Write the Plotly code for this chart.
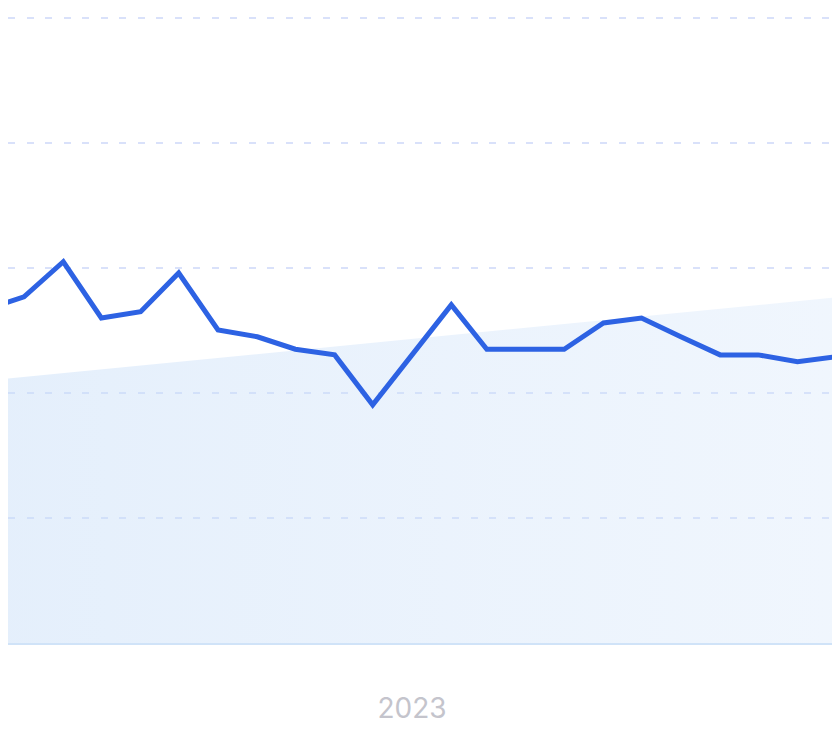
"""
Monthly series with a rising trend band, zoomed around 2023.
"""

import pandas as pd
import plotly.graph_objects as go

# ---------------------------------------------------------------------------
# Data
# ---------------------------------------------------------------------------
MONTHS = pd.date_range("2022-01-01", "2024-01-01", freq="MS")

VALUES = [
    50.0, 53.5, 55.4, 61.0, 52.0, 53.0, 59.2, 50.1, 49.0, 47.0, 46.1, 38.1,
    46.1, 54.1, 47.0, 47.0, 47.0, 51.2, 52.0, 49.0, 46.1, 46.1, 45.0, 45.8,
    85.0,
]

TREND_DATES = ["2022-01-01", "2024-01-01"]
TREND_VALUES = [41.4, 55.9]

LINE_COLOR = "#2D62E3"
GRID_COLOR = "#D9E1FA"
AXIS_COLOR = "#D0E3F8"
LABEL_COLOR = "#C4C4CC"

# ---------------------------------------------------------------------------
# Figure
# ---------------------------------------------------------------------------
fig = go.Figure()

fig.add_trace(go.Scatter(
    x=pd.to_datetime(TREND_DATES),
    y=TREND_VALUES,
    mode="lines",
    line=dict(width=0),
    fill="tozeroy",
    fillgradient=dict(
        type="horizontal",
        colorscale=[[0, "rgba(200,222,248,0.50)"], [1, "rgba(210,228,250,0.32)"]],
    ),
    hoverinfo="skip",
    showlegend=False,
))

fig.add_trace(go.Scatter(
    x=MONTHS,
    y=VALUES,
    mode="lines",
    line=dict(color=LINE_COLOR, width=5),
    showlegend=False,
))

# page has an 8px body margin; 1.268 px per day, Jan 1 2023 at page x=412
anchor = pd.Timestamp("2023-01-01")
x0 = anchor - pd.Timedelta(days=(412 - 8) / 1.268)
x1 = anchor + pd.Timedelta(days=(832 - 412) / 1.268)

fig.update_layout(
    width=824,
    height=724,
    margin=dict(l=0, r=0, t=0, b=89),
    paper_bgcolor="white",
    plot_bgcolor="white",
    font=dict(family="Inter, Noto Sans, sans-serif", color=LABEL_COLOR),
    xaxis=dict(
        type="date",
        range=[x0, x1],
        tickvals=[anchor],
        ticktext=["2023"],
        tickfont=dict(size=28, color=LABEL_COLOR),
        ticklabelstandoff=39,
        showgrid=False,
        showline=True,
        linecolor=AXIS_COLOR,
        linewidth=2,
        ticks="",
        zeroline=False,
    ),
    yaxis=dict(
        range=[0, 635 / 6.25],
        tickvals=[20, 40, 60, 80, 100],
        showticklabels=False,
        showgrid=True,
        gridcolor=GRID_COLOR,
        gridwidth=1.5,
        griddash="7px,11.5px",
        zeroline=False,
        showline=False,
    ),
)

fig.write_html("out.html")
